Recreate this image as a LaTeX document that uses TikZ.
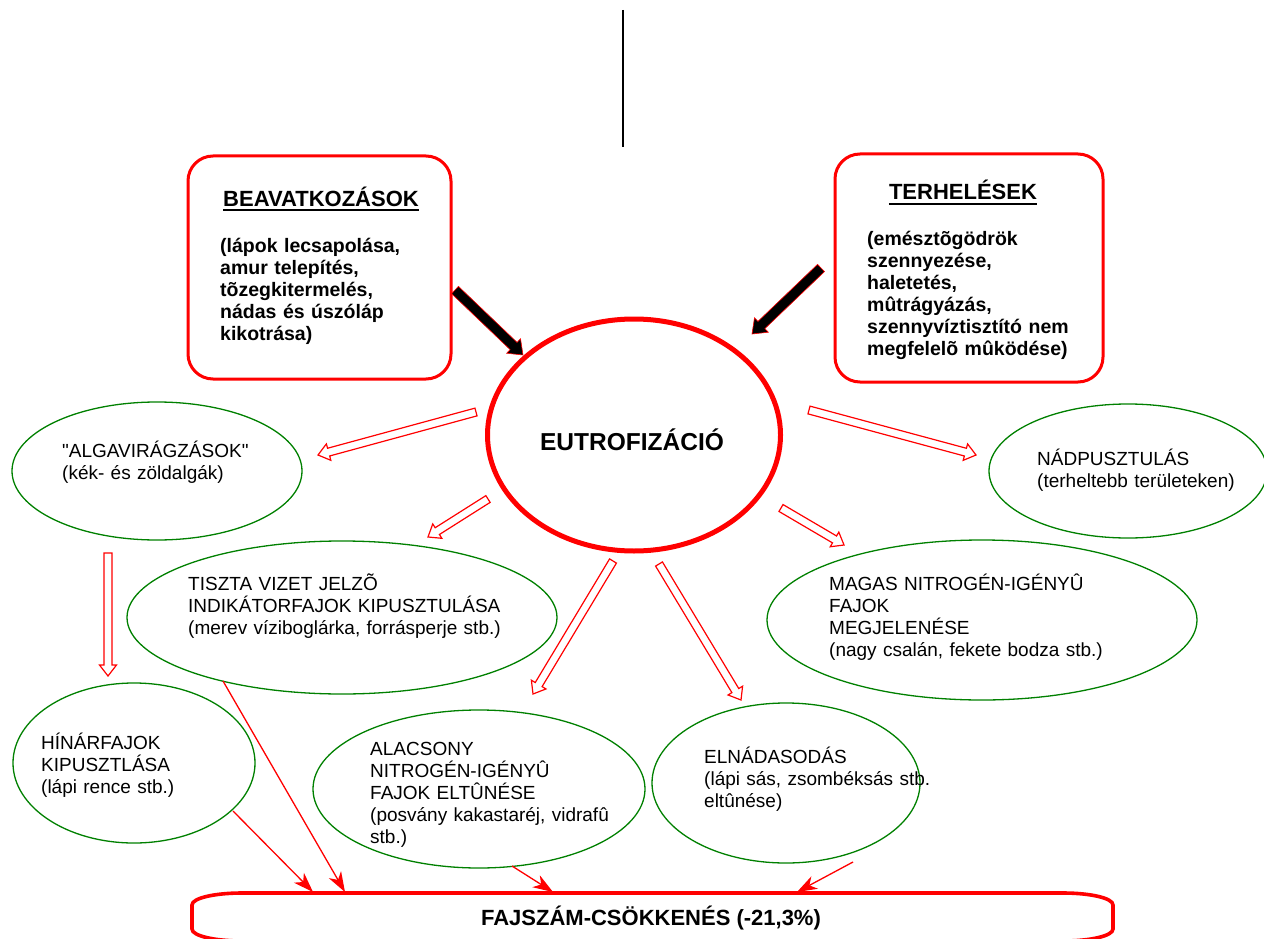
\documentclass[tikz,border=0pt]{standalone}
\usepackage{fontspec}
\setmainfont{Liberation Sans}
\newfontfamily\rawf{Liberation Sans}[Ligatures=TeXOff]
\usetikzlibrary{calc,arrows.meta,shapes.geometric}
\definecolor{rd}{RGB}{255,0,0}
\definecolor{gr}{RGB}{0,128,0}
% block arrow: #1 style, #2 from, #3 to, #4 shaft half width, #5 head half width, #6 head length
\newcommand\blkarrow[6]{%
  \coordinate (bah) at ($(#3)!#6!(#2)$);
  \draw[#1] ($(#2)!#4!90:(#3)$) -- ($(bah)!#4!90:(#3)$) -- ($(bah)!#5!90:(#3)$) -- (#3)
    -- ($(bah)!#5!-90:(#3)$) -- ($(bah)!#4!-90:(#3)$) -- ($(#2)!#4!-90:(#3)$) -- cycle;
}
\tikzset{
  txt/.style={anchor=base west, text width=420pt, align=left, inner sep=0pt,
    font=\fontsize{19}{22}\selectfont},
  btxt/.style={anchor=base west, text width=300pt, align=left, inner sep=0pt,
    font=\fontsize{19.5}{22}\selectfont\bfseries},
  ttl/.style={anchor=base, inner sep=0pt, font=\fontsize{22}{26}\selectfont\bfseries},
  redbox/.style={draw=rd, line width=3pt, rounded corners=25pt, inner sep=0pt},
  gell/.style={draw=gr, line width=1.3pt, ellipse, inner sep=0pt},
  hollow/.style={draw=rd, line width=1.2pt, fill=white, line join=miter},
  solidarr/.style={draw=rd, line width=0.6pt, fill=black},
  thin/.style={draw=rd, line width=1.3pt, -{Stealth[length=20pt,width=14pt,inset=6pt]}},
}
\begin{document}
\begin{tikzpicture}[x=1pt,y=-1pt]
\useasboundingbox (0,0) rectangle (1264,939);

% vertical line
\coordinate (vt) at (623,10);
\coordinate (vb) at (623,147);
\draw[line width=2.6pt] (vt) -- (vb);

% top boxes
\node[redbox, minimum width=263pt, minimum height=223pt] (bea) at (319.5,267.5) {};
\node[ttl] (beat) at (321,206) {BEAVATKOZÁSOK};
\draw[line width=2pt] ([yshift=-3.5pt]beat.base west) -- ([yshift=-3.5pt]beat.base east);
\node[btxt] (beab) at (220,252) {(lápok lecsapolása,\\amur telepítés,\\tõzegkitermelés,\\nádas és úszóláp\\kikotrása)};

\node[redbox, minimum width=268pt, minimum height=228pt] (ter) at (969,268) {};
\node[ttl] (tert) at (963,200) {TERHELÉSEK};
\draw[line width=2pt] ([yshift=-3.5pt]tert.base west) -- ([yshift=-3.5pt]tert.base east);
\node[btxt] (terb) at (867,245) {(emésztõgödrök\\szennyezése,\\haletetés,\\mûtrágyázás,\\szennyvíztisztító nem\\megfelelõ mûködése)};

% central ellipse
\node[draw=rd, line width=5pt, ellipse, minimum width=293pt, minimum height=232pt, inner sep=0pt] (eu) at (634,435) {};
\node[inner sep=0pt, font=\fontsize{24.5}{28}\selectfont\bfseries] (eut) at (632,440) {EUTROFIZÁCIÓ};

% black arrows
\coordinate (b1s) at (455,290); \coordinate (b1e) at (523,355);
\coordinate (b2s) at (821,268); \coordinate (b2e) at (752,334);
\blkarrow{solidarr}{b1s}{b1e}{5pt}{10pt}{13pt}
\blkarrow{solidarr}{b2s}{b2e}{5pt}{10pt}{13pt}

% green ellipses
\node[gell, minimum width=290pt, minimum height=138pt] (alga) at (157,471) {};
\node[txt] at (62,457) {{\rawf"}ALGAVIRÁGZÁSOK{\rawf"}\\(kék- és zöldalgák)};

\node[gell, minimum width=278pt, minimum height=134pt] (nad) at (1128,471) {};
\node[txt] at (1037,465) {NÁDPUSZTULÁS\\(terheltebb területeken)};

\node[gell, minimum width=430pt, minimum height=153pt] (tis) at (342,617.5) {};
\node[txt] at (188,590) {TISZTA VIZET JELZÕ\\INDIKÁTORFAJOK KIPUSZTULÁSA\\(merev víziboglárka, forrásperje stb.)};

\node[gell, minimum width=430pt, minimum height=160pt] (mag) at (982,620) {};
\node[txt] at (829,590) {MAGAS NITROGÉN-IGÉNYÛ\\FAJOK\\MEGJELENÉSE\\(nagy csalán, fekete bodza stb.)};

\node[gell, minimum width=242pt, minimum height=160pt] (hin) at (134,763) {};
\node[txt] at (41,749) {HÍNÁRFAJOK\\KIPUSZTLÁSA\\(lápi rence stb.)};

\node[gell, minimum width=332pt, minimum height=158pt] (ala) at (479,789) {};
\node[txt] at (370,755) {ALACSONY\\NITROGÉN-IGÉNYÛ\\FAJOK ELTÛNÉSE\\(posvány kakastaréj, vidrafû\\stb.)};

\node[gell, minimum width=268pt, minimum height=160pt] (eln) at (786,783) {};
\node[txt] at (704,763) {ELNÁDASODÁS\\(lápi sás, zsombéksás stb.\\eltûnése)};

% hollow block arrows
\coordinate (r1s) at (476,412); \coordinate (r1e) at (318,455);
\coordinate (r2s) at (488,499); \coordinate (r2e) at (428,537);
\coordinate (r3s) at (809,410); \coordinate (r3e) at (976,455);
\coordinate (r4s) at (781,508); \coordinate (r4e) at (844,545);
\coordinate (r5s) at (613,561); \coordinate (r5e) at (533,694);
\coordinate (r6s) at (659,564); \coordinate (r6e) at (741,700);
\coordinate (r7s) at (108,553); \coordinate (r7e) at (108,676);
\foreach \a in {1,...,7}{\blkarrow{hollow}{r\a s}{r\a e}{4pt}{8.5pt}{11pt}}

% bottom box
\draw[draw=rd, line width=3.6pt]
  (242,893) -- (1063,893) .. controls (1090,893) and (1113,898) .. (1113,905)
  -- (1113,929) .. controls (1113,936) and (1090,941) .. (1063,941)
  -- (242,941) .. controls (215,941) and (192,936) .. (192,929)
  -- (192,905) .. controls (192,898) and (215,893) .. (242,893) -- cycle;
\node[inner sep=0pt, font=\fontsize{22}{26}\selectfont\bfseries] (faj) at (651,918) {FAJSZÁM-CSÖKKENÉS (-21,3\%)};

% thin arrows
\coordinate (h1s) at (233,811); \coordinate (h1e) at (313,892);
\coordinate (t1s) at (223,681); \coordinate (t1e) at (345,892);
\coordinate (a1s) at (512,866); \coordinate (a1e) at (553,892);
\coordinate (e1s) at (853,862); \coordinate (e1e) at (797,892);
\draw[thin] (h1s) -- (h1e);
\draw[thin] (t1s) -- (t1e);
\draw[thin] (a1s) -- (a1e);
\draw[thin] (e1s) -- (e1e);
\end{tikzpicture}
\end{document}
